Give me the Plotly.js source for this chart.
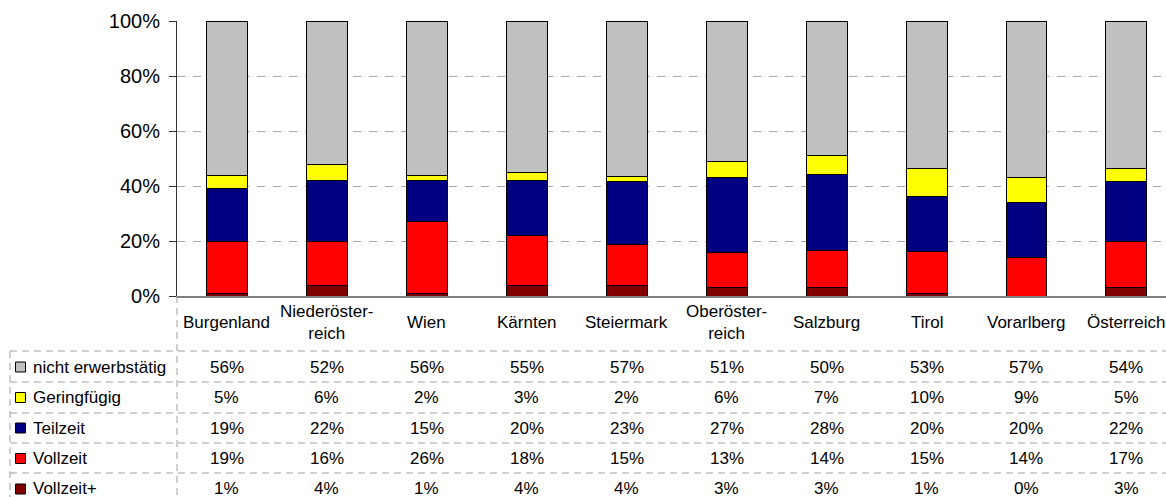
<!DOCTYPE html>
<html>
<head>
<meta charset="utf-8">
<script src="https://cdn.plot.ly/plotly-3.0.1.min.js"></script>
<style>html,body{margin:0;padding:0;background:#fff;}#chart{width:1166px;height:497px;}</style>
</head>
<body>
<div id="chart"></div>
<script>
const categories = ["Burgenland", "Niederöster-<br>reich", "Wien", "Kärnten", "Steiermark", "Oberöster-<br>reich", "Salzburg", "Tirol", "Vorarlberg", "Österreich"];
const seriesNames = ["Vollzeit+", "Vollzeit", "Teilzeit", "Geringfügig", "nicht erwerbstätig"];
const vollzeitPlus = [1, 4, 1, 4, 4, 3, 3, 1, 0, 3];
const vollzeit = [19, 16, 26, 18, 15, 13, 14, 15, 14, 17];
const teilzeit = [19, 22, 15, 20, 23, 27, 28, 20, 20, 22];
const geringfuegig = [5, 6, 2, 3, 2, 6, 7, 10, 9, 5];
const nichtErwerbstaetig = [56, 52, 56, 55, 57, 51, 50, 53, 57, 54];
const yTickVals = [0, 20, 40, 60, 80, 100];
const yTickText = ["0%", "20%", "40%", "60%", "80%", "100%"];

const seriesValues = [vollzeitPlus, vollzeit, teilzeit, geringfuegig, nichtErwerbstaetig];
const colors = ["#800000", "#FF0000", "#000080", "#FFFF00", "#C0C0C0"];
const FONT = "Liberation Sans, Arial, sans-serif";

const idx = categories.map((c, i) => i);
const traces = seriesValues.map((vals, s) => ({
  type: "bar",
  name: seriesNames[s],
  x: idx,
  y: vals,
  width: 0.41,
  marker: {color: colors[s], line: {color: "#000", width: 1}},
  hoverinfo: "skip"
}));

// pixel helpers
const W = 1166, H = 497, L = 177, T = 21, B = 296;
const plotH = B - T, plotW = W - L;
const py = p => (B - p) / plotH;   // pixel y -> paper y
const px = p => (p - L) / plotW;   // pixel x -> paper x

const annotations = [];
const shapes = [];

// category labels
categories.forEach((c, i) => {
  annotations.push({xref: "x", yref: "paper", x: i, y: py(322), text: c, showarrow: false,
    xanchor: "center", yanchor: "middle", align: "center", font: {family: FONT, size: 17, color: "#000"}});
});

// table rows (top to bottom: reversed series order)
const rowOrder = [4, 3, 2, 1, 0];
const rowCenters = [367, 397.5, 428, 458.5, 489];
const rowLines = [351, 382, 413, 443, 473];
rowOrder.forEach((s, r) => {
  const yc = rowCenters[r];
  // legend key
  shapes.push({type: "rect", xref: "paper", yref: "paper", x0: px(15.5), x1: px(25.5), y0: py(yc + 5), y1: py(yc - 5),
    fillcolor: colors[s], line: {color: "#000", width: 1}});
  annotations.push({xref: "paper", yref: "paper", x: px(31), y: py(yc), text: seriesNames[s], showarrow: false,
    xanchor: "left", yanchor: "middle", font: {family: FONT, size: 17, color: "#000"}});
  seriesValues[s].forEach((v, i) => {
    annotations.push({xref: "x", yref: "paper", x: i, y: py(yc), text: v + "%", showarrow: false,
      xanchor: "center", yanchor: "middle", font: {family: FONT, size: 17, color: "#000"}});
  });
  shapes.push({type: "line", xref: "paper", yref: "paper", x0: px(10), x1: 1, y0: py(rowLines[r]), y1: py(rowLines[r]),
    line: {color: "#A0A0A0", width: 1, dash: "7px,5px"}});
});
// vertical dashed lines
shapes.push({type: "line", xref: "paper", yref: "paper", x0: px(10), x1: px(10), y0: py(351), y1: py(505),
  line: {color: "#A0A0A0", width: 1, dash: "7px,5px"}});
shapes.push({type: "line", xref: "paper", yref: "paper", x0: 0, x1: 0, y0: 0, y1: py(505),
  line: {color: "#A0A0A0", width: 1, dash: "7px,5px"}});

const layout = {
  width: W, height: H,
  margin: {l: L, r: 0, t: T, b: H - B, pad: 0},
  paper_bgcolor: "#fff", plot_bgcolor: "#fff",
  barmode: "stack",
  barnorm: "percent",
  showlegend: false,
  xaxis: {
    range: [-0.5, -0.5 + plotW / 99.94],
    showticklabels: false, ticks: "", showgrid: false, zeroline: false,
    showline: true, linecolor: "#808080", linewidth: 1.5, fixedrange: true
  },
  yaxis: {
    range: [0, 100], tickvals: yTickVals, ticktext: yTickText,
    ticks: "outside", ticklen: 7, tickcolor: "#333", tickwidth: 1,
    showline: true, linecolor: "#333", linewidth: 1,
    showgrid: true, gridcolor: "#A8A8A8", griddash: "8px,8px", gridwidth: 1,
    zeroline: false,
    tickfont: {family: FONT, size: 20, color: "#000"}, ticklabelstandoff: 5, fixedrange: true
  },
  annotations: annotations,
  shapes: shapes,
  font: {family: FONT}
};

Plotly.newPlot("chart", traces, layout, {staticPlot: true, displayModeBar: false});
</script>
</body>
</html>
